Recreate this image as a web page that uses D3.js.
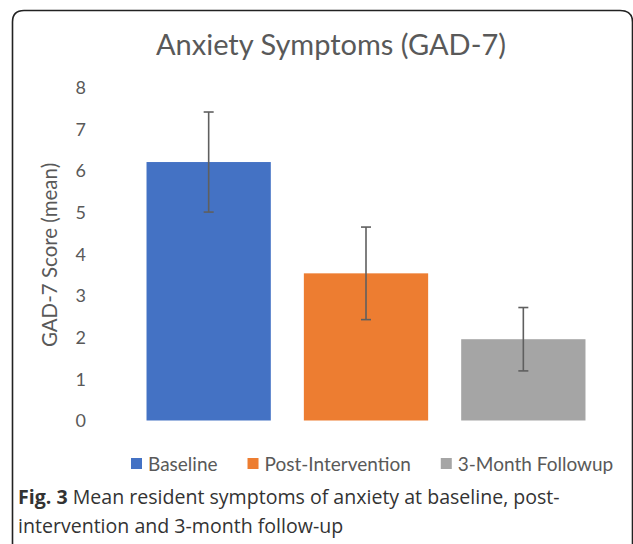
<!DOCTYPE html>
<html>
<head>
<meta charset="utf-8">
<script src="https://cdn.jsdelivr.net/npm/d3@7"></script>
<style>
  html, body { margin: 0; padding: 0; background: #fff; }
  svg { display: block; }
</style>
</head>
<body>
<div id="chart"></div>
<script>
// ---- data ----
const categories = ["Baseline", "Post-Intervention", "3-Month Followup"];
const meanValues = [6.2, 3.53, 1.95];
const errorValues = [1.2, 1.11, 0.76];
const yTickValues = [0, 1, 2, 3, 4, 5, 6, 7, 8];
const seriesColors = ["#4472C4", "#ED7D31", "#A5A5A5"];
const chartTitle = "Anxiety Symptoms (GAD-7)";
const yAxisTitle = "GAD-7 Score (mean)";
const captionBold = "Fig. 3";
const captionLine1 = " Mean resident symptoms of anxiety at baseline, post-";
const captionLine2 = "intervention and 3-month follow-up";

const W = 633, H = 544;
const chartFont = "Lato, 'Open Sans', sans-serif";
const textGray = "#595959";

const svg = d3.select("#chart").append("svg")
  .attr("width", W).attr("height", H);

svg.append("rect").attr("width", W).attr("height", H).attr("fill", "#fff");

// frame (rounded, open at bottom)
svg.append("path")
  .attr("d", "M12.5,560 L12.5,22 Q12.5,10.5 24,10.5 L620,10.5 Q632.5,10.5 632.5,22 L632.5,560")
  .attr("fill", "none").attr("stroke", "#222").attr("stroke-width", 1.6);

// scales
const y = d3.scaleLinear().domain([0, 8]).range([420.5, 87]);
const x = d3.scaleBand().domain(categories).range([130, 602])
  .paddingInner(0.21).paddingOuter(0.105);

// title
svg.append("text")
  .attr("x", 331).attr("y", 55)
  .attr("text-anchor", "middle")
  .attr("font-family", chartFont).attr("font-size", 29)
  .attr("fill", textGray)
  .text(chartTitle);

// y axis (labels only)
const yAxis = d3.axisLeft(y).tickValues(yTickValues).tickSize(0).tickPadding(0);
const gY = svg.append("g").attr("transform", "translate(86,0)").call(yAxis);
gY.select(".domain").remove();
gY.selectAll("text")
  .attr("font-family", chartFont).attr("font-size", 18)
  .attr("fill", textGray).attr("dy", "0.35em");

// y title
svg.append("text")
  .attr("transform", "translate(57,255) rotate(-90)")
  .attr("text-anchor", "middle")
  .attr("font-family", chartFont).attr("font-size", 20.5)
  .attr("fill", textGray)
  .text(yAxisTitle);

// bars
const data = categories.map((c, i) => ({ c, v: meanValues[i], e: errorValues[i], col: seriesColors[i] }));

svg.append("g").selectAll("rect").data(data).join("rect")
  .attr("x", d => x(d.c))
  .attr("y", d => y(d.v))
  .attr("width", x.bandwidth())
  .attr("height", d => y(0) - y(d.v))
  .attr("fill", d => d.col);

// error bars
const eg = svg.append("g").attr("stroke", "#5f5f5f").attr("stroke-width", 1.6).attr("fill", "none");
data.forEach(d => {
  const cx = x(d.c) + x.bandwidth() / 2;
  const top = y(d.v + d.e), bot = y(d.v - d.e);
  eg.append("line").attr("x1", cx).attr("x2", cx).attr("y1", top).attr("y2", bot);
  eg.append("line").attr("x1", cx - 5).attr("x2", cx + 5).attr("y1", top).attr("y2", top);
  eg.append("line").attr("x1", cx - 5).attr("x2", cx + 5).attr("y1", bot).attr("y2", bot);
});

// legend
const lg = svg.append("g");
const items = lg.selectAll("g").data(data).join("g");
items.append("rect").attr("width", 11).attr("height", 11).attr("y", -6).attr("fill", d => d.col);
items.append("text").attr("x", 17).attr("dy", "0.35em")
  .attr("font-family", chartFont).attr("font-size", 19).attr("fill", textGray)
  .text(d => d.c);
let cx = 131;
const gap = 30;
items.each(function () {
  const g = d3.select(this);
  const w = 17 + g.select("text").node().getComputedTextLength();
  g.attr("transform", `translate(${cx},464)`);
  cx += w + gap;
});

// caption
const capFont = "'Open Sans', 'Noto Sans', sans-serif";
const capTarget = 542;
const cap1 = svg.append("text").attr("x", 18).attr("y", 504)
  .attr("font-family", capFont).attr("font-size", 17.5).attr("fill", "#333");
cap1.append("tspan").attr("font-weight", "bold").text(captionBold);
cap1.append("tspan").text(captionLine1);
const capSize = 17.5 * capTarget / cap1.node().getComputedTextLength();
cap1.attr("font-size", capSize);
svg.append("text").attr("x", 18).attr("y", 533)
  .attr("font-family", capFont).attr("font-size", capSize).attr("fill", "#333")
  .text(captionLine2);
</script>
</body>
</html>
